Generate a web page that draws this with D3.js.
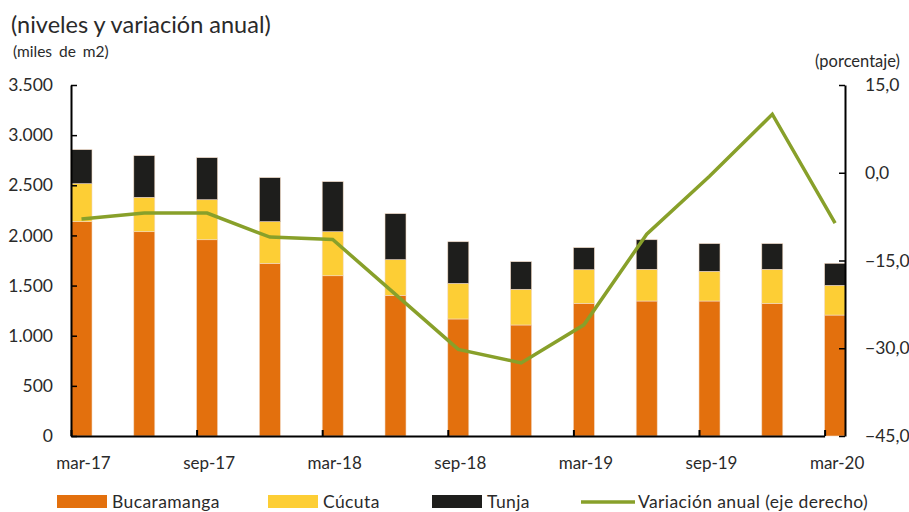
<!DOCTYPE html>
<html><head><meta charset="utf-8">
<script src="https://cdn.jsdelivr.net/npm/d3@7"></script>
<style>
html,body{margin:0;padding:0;background:#fff;}
svg{display:block;font-family:Lato,"Open Sans",sans-serif;}
</style></head>
<body>
<svg id="chart" width="909" height="512"></svg>
<script>
const categories = ["mar-17","jun-17","sep-17","dic-17","mar-18","jun-18","sep-18","dic-18","mar-19","jun-19","sep-19","dic-19","mar-20"];
const tickLabels = ["mar-17","sep-17","mar-18","sep-18","mar-19","sep-19","mar-20"];
const bucaramanga = [2137,2037,1957,1722,1598,1403,1167,1107,1323,1346,1346,1323,1206];
const cucuta      = [379,343,399,415,439,355,355,356,335,316,296,339,296];
const tunja       = [339,415,419,439,499,459,415,275,220,295,276,256,220];
const variacion   = [-7.9,-6.9,-6.9,-11.0,-11.4,-20.8,-30.2,-32.5,-26.0,-10.5,-0.6,10.0,-8.6];
const leftTicks = [0,500,1000,1500,2000,2500,3000,3500];
const rightTicks = [-45,-30,-15,0,15];
const seriesNames = ["Bucaramanga","Cúcuta","Tunja"];
const colors = {"Bucaramanga":"#E3700D","Cúcuta":"#FDCE35","Tunja":"#1E1E1C"};
const lineColor = "#88A02A";

const svg = d3.select("#chart");
const x0 = 71, x1 = 845, yTop = 85, yBot = 436;
const barW = 21;
const textColor = "#2a2a2a";

const xs = d3.scalePoint().domain(categories).range([x0, 824.6]);
const yL = d3.scaleLinear().domain([0,3500]).range([yBot, yTop]);
const yR = d3.scaleLinear().domain([-45,15]).range([yBot, yTop]);

const rows = categories.map((c,i)=>({cat:c, "Bucaramanga":bucaramanga[i], "Cúcuta":cucuta[i], "Tunja":tunja[i]}));
const stacked = d3.stack().keys(seriesNames)(rows);

// bars
svg.append("g").selectAll("g").data(stacked).join("g")
  .attr("fill", d=>colors[d.key])
  .selectAll("rect").data(d=>d).join("rect")
  .attr("x", d=>xs(d.data.cat))
  .attr("width", barW)
  .attr("y", d=>yL(d[1]))
  .attr("height", d=>yL(d[0])-yL(d[1]))
  .attr("stroke","#f2d9c4").attr("stroke-width",0.6);

// line
const line = d3.line().x((d,i)=>xs(categories[i])+barW/2).y(d=>yR(d));
svg.append("path").datum(variacion)
  .attr("d", line).attr("fill","none")
  .attr("stroke", lineColor).attr("stroke-width",3.5).attr("stroke-linejoin","miter");

// axes
const axisColor = "#000";
const leftAxis = d3.axisLeft(yL).tickValues(leftTicks).tickSizeInner(-6).tickSizeOuter(0)
  .tickPadding(18).tickFormat(d=>d3.format(",")(d).replace(/,/g,"."));
const gL = svg.append("g").attr("transform",`translate(${x0},0)`).call(leftAxis);
gL.select(".domain").attr("stroke",axisColor).attr("stroke-width",2);
gL.selectAll(".tick line").attr("stroke",axisColor).attr("stroke-width",1.5);
gL.selectAll(".tick text").attr("font-size",17.5).attr("fill",textColor).attr("font-family","Lato");

const rightAxis = d3.axisRight(yR).tickValues(rightTicks).tickSizeInner(-6).tickSizeOuter(0)
  .tickPadding(20).tickFormat(d=>d3.format(".1f")(d).replace(".",","));
const gR = svg.append("g").attr("transform",`translate(${x1},0)`).call(rightAxis);
gR.select(".domain").attr("stroke",axisColor).attr("stroke-width",2);
gR.selectAll(".tick line").attr("stroke",axisColor).attr("stroke-width",1.5);
gR.selectAll(".tick text").attr("font-size",17.5).attr("fill",textColor).attr("font-family","Lato");

// bottom axis
const bottomAxis = d3.axisBottom(xs).tickValues(tickLabels).tickSizeInner(-6).tickSizeOuter(0).tickFormat(()=>"");
const gB = svg.append("g").attr("transform",`translate(0,${yBot})`).call(bottomAxis);
gB.select(".domain").attr("stroke",axisColor).attr("stroke-width",2);
gB.selectAll(".tick line").attr("stroke",axisColor).attr("stroke-width",2);
gB.selectAll(".tick text").remove();
svg.append("g").selectAll("text").data(tickLabels).join("text")
  .attr("x", d=>xs(d)+barW/2+2).attr("y", 469)
  .attr("text-anchor","middle").attr("font-size",17).attr("fill",textColor)
  .text(d=>d);

// titles
svg.append("text").attr("x",11).attr("y",33).attr("font-size",23.5).attr("fill",textColor).text("(niveles y variación anual)");
svg.append("text").attr("x",13).attr("y",57).attr("font-size",15.5).attr("word-spacing",3).attr("fill",textColor).text("(miles de m2)");
svg.append("text").attr("x",900).attr("y",67).attr("text-anchor","end").attr("font-size",16.5).attr("fill",textColor).text("(porcentaje)");

// legend
const legend = [
  {name:"Bucaramanga", type:"rect", x:57, color:colors["Bucaramanga"]},
  {name:"Cúcuta", type:"rect", x:268, color:colors["Cúcuta"]},
  {name:"Tunja", type:"rect", x:432, color:colors["Tunja"]},
  {name:"Variación anual (eje derecho)", type:"line", x:581, color:lineColor}
];
const lg = svg.append("g").selectAll("g").data(legend).join("g");
lg.filter(d=>d.type==="rect").append("rect")
  .attr("x",d=>d.x).attr("y",495).attr("width",50).attr("height",13).attr("fill",d=>d.color);
lg.filter(d=>d.type==="line").append("line")
  .attr("x1",d=>d.x).attr("x2",d=>d.x+54).attr("y1",502).attr("y2",502)
  .attr("stroke",d=>d.color).attr("stroke-width",3.5);
lg.append("text").attr("x",d=>d.type==="rect"?d.x+55:d.x+57).attr("y",508)
  .attr("font-size",17.5).attr("letter-spacing",0.4).attr("fill",textColor).text(d=>d.name);
</script>
</body></html>
